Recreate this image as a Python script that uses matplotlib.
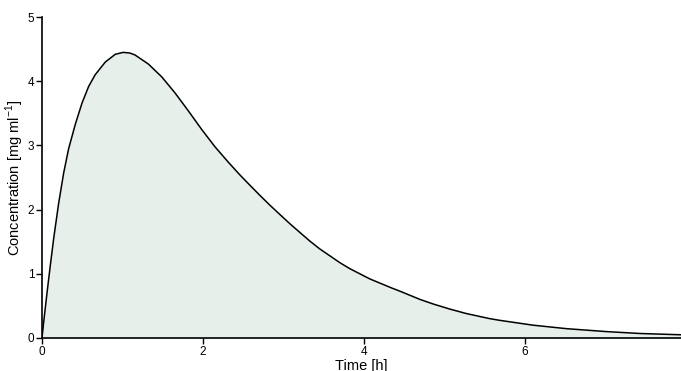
import numpy as np
import matplotlib
matplotlib.use("Agg")
import matplotlib.pyplot as plt

plt.rcParams["font.family"] = ["Liberation Sans", "DejaVu Sans"]
plt.rcParams["mathtext.fontset"] = "custom"
plt.rcParams["mathtext.rm"] = "Liberation Sans"

# -------------------------------------------------
# Concentration curve
# -------------------------------------------------
time_h = [0.0, 0.02, 0.062, 0.104, 0.145, 0.207, 0.269, 0.331, 0.414, 0.497,
          0.58, 0.66, 0.787, 0.911, 1.01, 1.09, 1.155, 1.32, 1.487, 1.652,
          1.818, 1.984, 2.149, 2.315, 2.46, 2.584, 2.71, 2.832, 2.96, 3.081,
          3.20, 3.329, 3.45, 3.578, 3.70, 3.826, 4.075, 4.344, 4.447, 4.70,
          4.861, 5.07, 5.276, 5.57, 5.689, 6.10, 6.52, 7.01, 7.43, 7.94]
conc = [0.0, 0.24, 0.70, 1.14, 1.55, 2.10, 2.57, 2.95, 3.33, 3.66,
        3.92, 4.10, 4.30, 4.42, 4.45, 4.44, 4.41, 4.27, 4.07, 3.82,
        3.54, 3.25, 2.98, 2.74, 2.54, 2.38, 2.22, 2.07, 1.92, 1.78,
        1.65, 1.51, 1.39, 1.28, 1.175, 1.08, 0.92, 0.78, 0.73, 0.60,
        0.53, 0.45, 0.38, 0.30, 0.275, 0.20, 0.145, 0.10, 0.07, 0.05]

x_ticks = [0, 2, 4, 6]
y_ticks = [0, 1, 2, 3, 4, 5]

fig = plt.figure(figsize=(6.81, 3.71), dpi=100)
ax = fig.add_axes([0.0617, 0.089, 0.938, 0.865])

ax.fill_between(time_h, conc, 0, color="#e6efea", linewidth=0)
ax.plot(time_h, conc, color="black", linewidth=1.1, solid_joinstyle="round")

ax.set_xlim(0, 7.94)
ax.set_ylim(0, 5)
ax.set_xticks(x_ticks)
ax.set_yticks(y_ticks)

for side in ["top", "right"]:
    ax.spines[side].set_visible(False)
for side in ["left", "bottom"]:
    ax.spines[side].set_linewidth(1.2)

ax.tick_params(direction="out", length=4, width=1, labelsize=8.5, pad=1.5)

ax.set_xlabel("Time [h]", fontsize=10.5, labelpad=1)
ax.set_ylabel("Concentration [mg ml$^{-1}$]", fontsize=10.5, labelpad=1)

plt.savefig("out.png", dpi=100)
plt.close()
